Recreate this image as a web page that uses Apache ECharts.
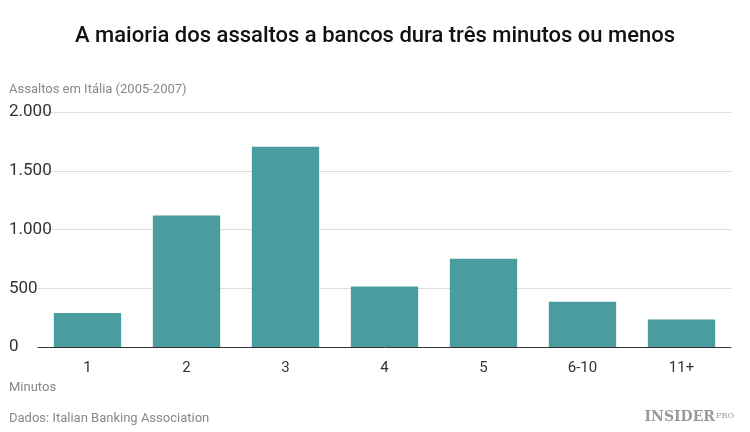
<!DOCTYPE html>
<html>
<head>
<meta charset="utf-8">
<script src="https://cdn.jsdelivr.net/npm/echarts@6/dist/echarts.min.js"></script>
<style>html,body{margin:0;background:#fff}#c{width:750px;height:432px}</style>
</head>
<body>
<div id="c"></div>
<script>
var categories = ['1', '2', '3', '4', '5', '6-10', '11+'];
var values = [290, 1120, 1705, 515, 752, 386, 235];
var yTicks = ['0', '500', '1.000', '1.500', '2.000'];

var chart = echarts.init(document.getElementById('c'));
chart.setOption({
    animation: false,
    title: [
        { text: 'A maioria dos assaltos a bancos dura três minutos ou menos', left: 'center', top: 20,
          textStyle: { fontFamily: 'Roboto', fontSize: 22, fontWeight: 500, color: '#111' } },
        { text: 'Assaltos em Itália (2005-2007)', left: 4, top: 78,
          textStyle: { fontFamily: 'Roboto', fontSize: 13, fontWeight: 'normal', color: '#888' } },
        { text: 'Minutos', left: 4, top: 376,
          textStyle: { fontFamily: 'Roboto', fontSize: 13, fontWeight: 'normal', color: '#888' } },
        { text: 'Dados: Italian Banking Association', left: 4, top: 407,
          textStyle: { fontFamily: 'Roboto', fontSize: 13, fontWeight: 'normal', color: '#888' } },
        { text: 'INSIDER', right: 30, top: 405,
          textStyle: { fontFamily: 'DejaVu Serif', fontSize: 14, fontWeight: 'bold', color: '#999' } },
        { text: 'PRO', right: 11, top: 407,
          textStyle: { fontFamily: 'DejaVu Serif', fontSize: 8, fontWeight: 'normal', color: '#999' } }
    ],
    grid: { left: 38, right: 19, top: 112, bottom: 85 },
    xAxis: {
        type: 'category',
        data: categories,
        axisTick: { show: false },
        axisLine: { lineStyle: { color: '#333' } },
        axisLabel: { fontFamily: 'Roboto', fontSize: 15, color: '#333', margin: 14 }
    },
    yAxis: {
        type: 'value',
        min: 0, max: 2000, interval: 500,
        splitLine: { lineStyle: { color: '#ddd' } },
        axisLabel: {
            fontFamily: 'Roboto', fontSize: 17, color: '#333', align: 'left', margin: 29,
            verticalAlign: 'middle', padding: [0, 0, 4, 0],
            formatter: function (v) { return yTicks[v / 500]; }
        }
    },
    series: [{
        type: 'bar',
        data: values,
        barWidth: '68%',
        itemStyle: { color: '#4a9c9e' }
    }]
});
</script>
</body>
</html>
